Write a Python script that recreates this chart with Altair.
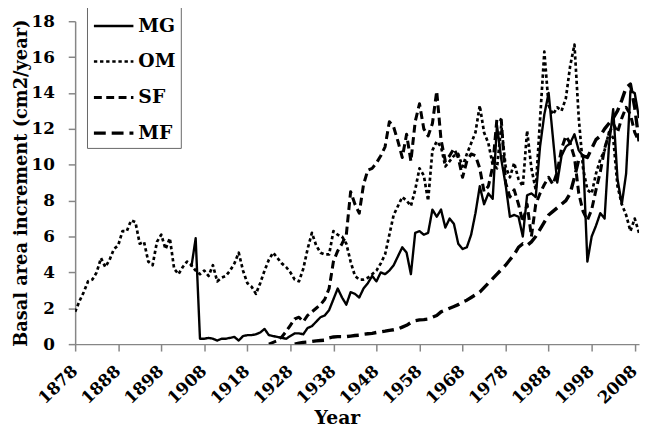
import altair as alt
import pandas as pd

series_order = ["MG", "OM", "SF", "MF"]

# Annual basal area increment values (cm2/year)
om_start = 1878
om_values = [
    1.8, 2.4, 2.9, 3.5, 3.6, 4.0, 4.8, 4.3, 4.7, 5.3,      # 1878-1887
    5.5, 6.3, 6.3, 6.9, 6.8, 5.6, 5.7, 4.6, 4.4, 5.7,      # 1888-1897
    6.1, 5.3, 5.9, 4.2, 3.9, 4.3, 4.6, 4.4, 4.1, 3.9,      # 1898-1907
    4.1, 3.8, 4.4, 3.5, 3.7, 3.8, 4.1, 4.5, 5.1, 4.1,      # 1908-1917
    3.4, 3.2, 2.8, 3.4, 4.1, 4.7, 5.1, 4.8, 4.5, 4.3,      # 1918-1927
    4.0, 3.6, 3.5, 4.2, 5.3, 6.2, 5.5, 5.1, 5.0, 5.0,      # 1928-1937
    6.3, 6.1, 6.0, 5.6, 4.6, 3.8, 3.6, 3.6, 3.7, 3.9,      # 1938-1947
    4.1, 4.5, 5.0, 6.1, 7.2, 7.7, 8.2, 8.0, 7.7, 8.6,      # 1948-1957
    9.8, 9.4, 8.0, 10.8, 11.3, 11.0, 9.9, 10.2, 10.5, 10.6,  # 1958-1967
    9.9, 10.6, 11.2, 11.8, 13.3, 11.8, 11.2, 10.0, 9.8, 12.2,  # 1968-1977
    9.9, 9.3, 10.1, 9.2, 8.8, 11.9, 9.8, 8.6, 12.5, 16.3,  # 1978-1987
    13.3, 12.8, 13.2, 13.0, 13.7, 15.5, 16.7, 12.6, 9.8, 8.6,  # 1988-1997
    8.4, 9.5, 10.3, 10.8, 11.8, 11.5, 8.8, 7.8, 7.2, 6.3,  # 1998-2007
    7.0, 6.2,                                              # 2008-2009
]

mg_start = 1905
mg_values = [
    4.3, 5.9, 0.3, 0.3, 0.35, 0.3, 0.2, 0.3, 0.3, 0.35,    # 1905-1914
    0.4, 0.2, 0.45, 0.5, 0.5, 0.55, 0.65, 0.85, 0.5, 0.45,  # 1915-1924
    0.4, 0.35, 0.3, 0.45, 0.6, 0.6, 0.55, 0.9, 1.0, 1.25,  # 1925-1934
    1.5, 1.6, 1.9, 2.5, 3.1, 2.6, 2.2, 2.9, 2.8, 2.6,      # 1935-1944
    3.1, 3.4, 3.8, 3.5, 4.0, 3.9, 4.1, 4.4, 4.9, 5.4,      # 1945-1954
    5.1, 3.9, 6.2, 6.3, 6.1, 6.2, 7.5, 7.1, 7.5, 6.5,      # 1955-1964
    7.0, 6.7, 5.6, 5.3, 5.4, 6.1, 7.3, 8.8, 7.8, 8.4,      # 1965-1974
    8.1, 12.2, 10.3, 8.9, 7.1, 7.2, 7.1, 6.0, 8.3, 8.4,    # 1975-1984
    8.2, 11.0, 12.8, 14.0, 11.5, 9.0, 10.5, 11.0, 11.2, 11.7,  # 1985-1994
    10.8, 10.5, 4.6, 6.0, 6.6, 7.3, 7.0, 11.0, 13.1, 9.2,  # 1995-2004
    7.8, 9.5, 14.1, 14.0, 12.6,                            # 2005-2009
]

sf_start = 1923
sf_values = [
    0.0, 0.1, 0.2, 0.4, 0.7, 1.05, 1.4, 1.5, 1.25, 1.6,    # 1923-1932
    1.8, 2.0, 2.2, 2.5, 3.1, 4.6, 5.2, 5.6, 6.1, 8.5,      # 1933-1942
    7.8, 7.3, 8.9, 9.7, 9.8, 10.1, 10.5, 11.0, 12.4, 12.1,  # 1943-1952
    11.3, 10.4, 11.7, 10.2, 12.4, 13.4, 12.0, 11.6, 12.3, 14.1,  # 1953-1962
    11.4, 10.2, 10.5, 10.9, 10.4, 9.3, 10.2, 10.6, 10.5, 9.8,  # 1963-1972
    8.5, 8.8, 9.9, 12.6, 12.5, 9.0, 8.2, 8.6, 7.8, 6.8,    # 1973-1982
    7.8, 6.0, 7.8, 8.4, 8.9, 9.3, 8.9, 9.6, 10.9, 11.6,    # 1983-1992
    11.2, 10.4, 8.4, 7.4, 6.9, 7.5, 8.6, 9.6, 10.9, 11.7,  # 1993-2002
    12.3, 11.8, 12.6, 13.2, 12.8, 11.8, 11.3,              # 2003-2009
]

mf_start = 1929
mf_values = [
    0.0, 0.05, 0.1, 0.12, 0.15, 0.18, 0.2, 0.22, 0.35, 0.4,  # 1929-1938
    0.42, 0.42, 0.42, 0.45, 0.48, 0.5, 0.55, 0.58, 0.6, 0.65,  # 1939-1948
    0.68, 0.72, 0.77, 0.8, 0.85, 0.95, 1.05, 1.2, 1.3, 1.35,  # 1949-1958
    1.37, 1.4, 1.5, 1.6, 1.8, 1.9, 2.0, 2.1, 2.2, 2.35,    # 1959-1968
    2.45, 2.6, 2.75, 2.9, 3.15, 3.4, 3.65, 3.9, 4.15, 4.4,  # 1969-1978
    4.7, 5.0, 5.4, 5.6, 5.5, 5.7, 6.0, 6.4, 6.8, 7.2,      # 1979-1988
    7.4, 7.6, 7.8, 8.0, 8.4, 9.3, 10.3, 10.5, 10.4, 10.9,  # 1989-1998
    11.4, 11.6, 12.0, 12.3, 12.6, 13.0, 13.6, 14.3, 14.5, 13.2, 11.3,  # 1999-2009
]

x_tick_years = [1878, 1888, 1898, 1908, 1918, 1928, 1938, 1948,
                1958, 1968, 1978, 1988, 1998, 2008]
y_ticks = [0, 2, 4, 6, 8, 10, 12, 14, 16, 18]

# styles (one per series, same order as series_order)
dash_styles = [[1, 0], [3.4, 2.8], [8, 4.5], [12, 6]]
line_widths = [2.4, 3.4, 3.3, 4.3]

rows = []
for name, start, vals in [("MG", mg_start, mg_values), ("OM", om_start, om_values),
                          ("SF", sf_start, sf_values), ("MF", mf_start, mf_values)]:
    for i, v in enumerate(vals):
        rows.append({"year": start + i, "value": v, "series": name})
df = pd.DataFrame(rows)
tick_df = pd.DataFrame({"year": x_tick_years, "label": [str(y) for y in x_tick_years]})

FONT = "DejaVu Serif"
PLOT_W, PLOT_H = 571, 327

legend = alt.Legend(
    title=None, orient="none", legendX=12, legendY=-21.7, direction="vertical",
    strokeColor="#666666", fillColor="white", padding=5, rowPadding=4,
    symbolType="stroke", symbolSize=1600, symbolStrokeColor="black",
    labelFont=FONT, labelFontSize=19, labelFontWeight="bold", labelColor="black",
    labelOffset=3,
)

x_scale = alt.Scale(domain=[1878, 2009], nice=False, zero=False)

lines = alt.Chart(df).mark_line(color="black", clip=True, strokeJoin="round").encode(
    x=alt.X(
        "year:Q", scale=x_scale,
        axis=alt.Axis(
            values=x_tick_years, title="Year", labelOpacity=0,
            titleX=265, titleY=80, titleAlign="center", titleBaseline="alphabetic",
            titleFontSize=19,
        ),
    ),
    y=alt.Y(
        "value:Q", scale=alt.Scale(domain=[0, 18], nice=False),
        axis=alt.Axis(
            values=y_ticks, title="Basal area increment (cm2/year)",
            labelPadding=14, labelFontSize=17,
            titleX=-54, titleY=163.5, titleAngle=270, titleAlign="center",
            titleBaseline="middle", titleFontSize=18,
        ),
    ),
    strokeDash=alt.StrokeDash("series:N", scale=alt.Scale(domain=series_order, range=dash_styles), legend=legend),
    strokeWidth=alt.StrokeWidth("series:N", scale=alt.Scale(domain=series_order, range=line_widths), legend=legend),
)

# diagonal year labels under the x axis, placed by the shared x scale
tick_labels = alt.Chart(tick_df).mark_text(
    angle=316, align="right", baseline="middle",
    font=FONT, fontSize=17, fontWeight="bold", color="black",
).encode(
    x=alt.X("year:Q", scale=x_scale),
    y=alt.value(PLOT_H + 25),
    text="label:N",
)

chart = alt.layer(lines, tick_labels).properties(
    width=PLOT_W, height=PLOT_H,
    autosize=alt.AutoSizeParams(type="none"),
    padding={"left": 68, "top": 10.7, "right": 2, "bottom": 88},
).configure_view(stroke=None).configure_axis(
    grid=False, domainColor="#868686", domainWidth=1.5, tickColor="#868686",
    tickWidth=1.5, tickSize=7, labelFont=FONT, labelFontWeight="bold",
    labelColor="black", titleFont=FONT, titleFontWeight="bold", titleColor="black",
)

chart.save("out.html", embed_options={"renderer": "svg", "actions": False})
